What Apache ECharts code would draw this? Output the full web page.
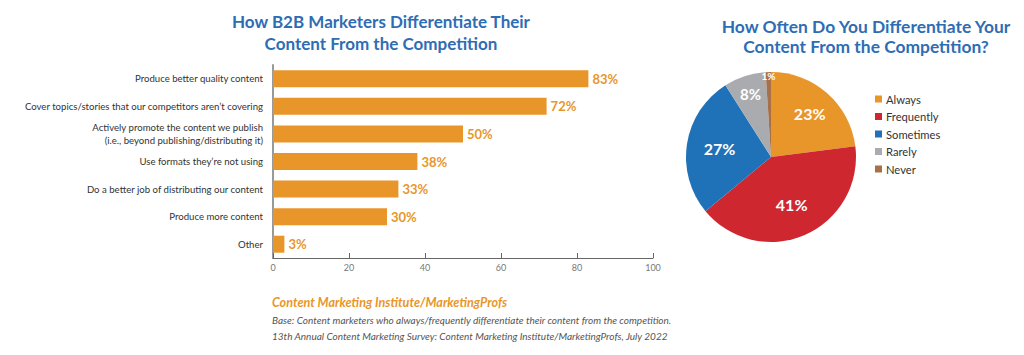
<!DOCTYPE html>
<html><head><meta charset="utf-8">
<script src="https://cdn.jsdelivr.net/npm/echarts@6/dist/echarts.min.js"></script>
<style>html,body{margin:0;padding:0;background:#fff}#c{width:1024px;height:355px}</style>
</head><body><div id="c"></div>
<script>
// ---- data ----
const barCategories = [
  'Produce better quality content',
  'Cover topics/stories that our competitors aren\u2019t covering',
  'Actively promote the content we publish\n(i.e., beyond publishing/distributing it)',
  'Use formats they\u2019re not using',
  'Do a better job of distributing our content',
  'Produce more content',
  'Other'
];
const barValues = [83, 72, 50, 38, 33, 30, 3];
const xTicks = [0, 20, 40, 60, 80, 100];

const pieNames = ['Always', 'Frequently', 'Sometimes', 'Rarely', 'Never'];
const pieValues = [23, 41, 27, 8, 1];
const pieColors = ['#E8962A', '#CE2730', '#1F72B8', '#A9ABAE', '#A87048'];

const leftTitle = 'How B2B Marketers Differentiate Their\nContent From the Competition';
const rightTitle = 'How Often Do You Differentiate Your\nContent From the Competition?';
const sourceLine = 'Content Marketing Institute/MarketingProfs';
const baseLine = 'Base: Content marketers who always/frequently differentiate their content from the competition.';
const surveyLine = '13th Annual Content Marketing Survey: Content Marketing Institute/MarketingProfs, July 2022';

// ---- chart ----
const FONT = 'Lato, "Open Sans", sans-serif';
const chart = echarts.init(document.getElementById('c'), null, {renderer: 'svg'});

const pieCenter = [771, 157];
const pieR = 85;
// label rings: which slices get labels at what ring radius
const labelRings = [
  {idx: [0], r: 111, size: 16},
  {idx: [1, 2], r: 98, size: 16},
  {idx: [3], r: 127, size: 15},
  {idx: [4], r: 156, size: 10}
];

const series = [{
  type: 'bar',
  xAxisIndex: 0, yAxisIndex: 0,
  data: barValues,
  barWidth: 17,
  itemStyle: {color: '#E8962A'},
  label: {show: true, position: 'right', distance: 4, formatter: '{c}%',
    color: '#E8962A', fontWeight: 'bold', fontSize: 13, fontFamily: FONT},
  silent: true
}, {
  type: 'pie',
  center: pieCenter,
  radius: [0, pieR],
  startAngle: 90,
  clockwise: true,
  data: pieNames.map((n, i) => ({name: n, value: pieValues[i], itemStyle: {color: pieColors[i]}})),
  label: {show: false},
  labelLine: {show: false},
  itemStyle: {borderWidth: 0},
  silent: true
}];
labelRings.forEach(ring => {
  series.push({
    type: 'pie',
    center: pieCenter,
    radius: [0, ring.r],
    startAngle: 90,
    clockwise: true,
    silent: true,
    legendHoverLink: false,
    z: 5,
    data: pieNames.map((n, i) => ({
      name: n, value: pieValues[i],
      itemStyle: {color: 'rgba(0,0,0,0)'},
      label: {show: ring.idx.indexOf(i) >= 0}
    })),
    label: {position: 'inside', formatter: '{c}%', color: '#fff', fontWeight: 'bold',
      fontSize: ring.size, fontFamily: FONT},
    labelLine: {show: false}
  });
});

chart.setOption({
  animation: false,
  textStyle: {fontFamily: FONT},
  grid: {left: 273, right: 371, top: 65, bottom: 97, containLabel: false},
  xAxis: {
    type: 'value', min: xTicks[0], max: xTicks[xTicks.length - 1], interval: 20,
    axisLine: {show: true, lineStyle: {color: '#666', width: 1}},
    axisTick: {show: true, inside: true, length: 5, lineStyle: {color: '#666'}},
    axisLabel: {color: '#777', fontSize: 9, margin: 5, fontFamily: FONT},
    splitLine: {show: false}
  },
  yAxis: {
    type: 'category', inverse: true, data: barCategories,
    axisLine: {show: true, lineStyle: {color: '#999', width: 2}},
    axisTick: {show: false},
    axisLabel: {color: '#333', fontSize: 9.6, margin: 10, lineHeight: 13, fontFamily: FONT}
  },
  legend: {
    orient: 'vertical', left: 870, top: 88,
    icon: 'rect', itemWidth: 7, itemHeight: 7, itemGap: 5.5,
    selectedMode: false,
    data: pieNames.map((n, i) => ({name: n, itemStyle: {color: pieColors[i]}})),
    textStyle: {color: '#333', fontSize: 11.2, lineHeight: 12, fontFamily: FONT, padding: [0, 0, 0, -1]}
  },
  graphic: [
    {type: 'text', x: 381, y: 10, style: {text: leftTitle, textAlign: 'center', fill: '#2E6DB4',
      font: 'bold 17px ' + FONT, lineHeight: 22}},
    {type: 'text', x: 866, y: 16, style: {text: rightTitle, textAlign: 'center', fill: '#2E6DB4',
      font: 'bold 17.4px ' + FONT, lineHeight: 20}},
    {type: 'text', x: 272, y: 296, style: {text: sourceLine, fill: '#E8962A',
      font: 'italic bold 12.6px ' + FONT}},
    {type: 'text', x: 272, y: 315, style: {text: baseLine, fill: '#555',
      font: 'italic 10px ' + FONT}},
    {type: 'text', x: 272, y: 331, style: {text: surveyLine, fill: '#555',
      font: 'italic 10px ' + FONT}}
  ],
  series: series
});
</script></body></html>
